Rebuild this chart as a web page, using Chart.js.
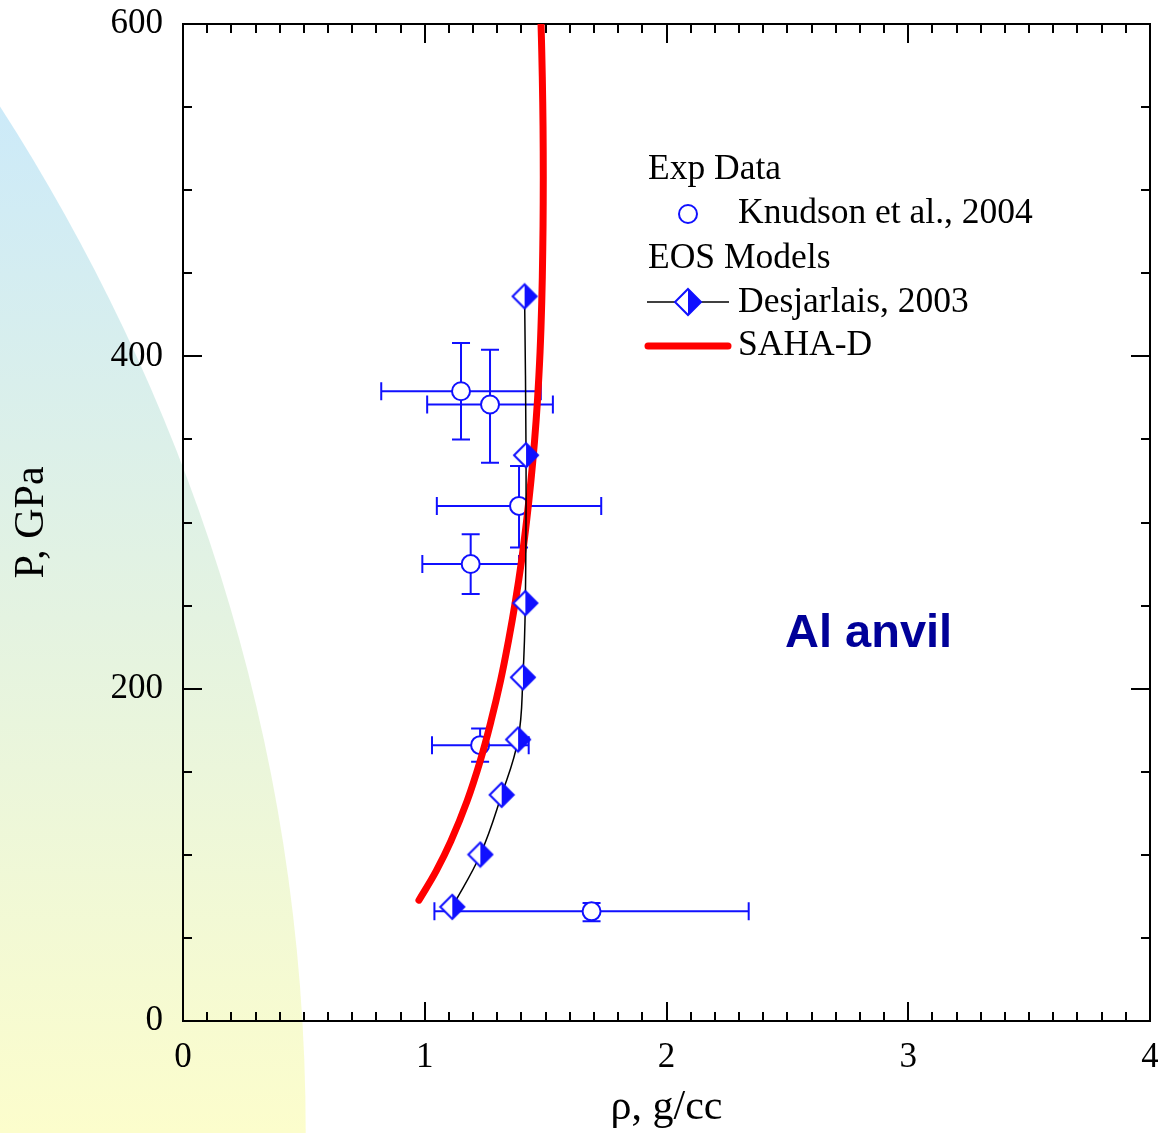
<!DOCTYPE html>
<html>
<head>
<meta charset="utf-8">
<script src="https://cdn.jsdelivr.net/npm/chart.js@4.4.1/dist/chart.umd.min.js"></script>
<style>
  html, body { margin: 0; padding: 0; background: #fff; }
</style>
</head>
<body>
<canvas id="myChart" width="1158" height="1133"></canvas>
<script>
// Exp data: Knudson et al., 2004 (density g/cc, pressure GPa, with error bars)
const knudsonRho = [1.150, 1.270, 1.390, 1.190, 1.229, 1.690];
const knudsonP = [379, 371, 310, 275, 166, 66];
const knudsonRhoLo = [0.82, 1.01, 1.05, 0.99, 1.03, 1.04];
const knudsonRhoHi = [1.48, 1.53, 1.73, 1.39, 1.43, 2.34];
const knudsonPLo = [350, 336, 285, 257, 156, 60];
const knudsonPHi = [408, 404, 334, 293, 176, 71];

// EOS model: Desjarlais, 2003
const desjRho = [1.114, 1.230, 1.318, 1.386, 1.406, 1.416, 1.419, 1.413];
const desjP = [68.7, 100.2, 136.1, 169.4, 206.8, 251.5, 340.5, 436.1];

// EOS model: SAHA-D
const sahaRho = [0.976, 1.047, 1.108, 1.175, 1.229, 1.274, 1.313, 1.346, 1.375, 1.400, 1.421, 1.439, 1.454, 1.466, 1.477, 1.484, 1.488, 1.490, 1.490, 1.488, 1.484, 1.481];
const sahaP = [72.7, 90.2, 108.2, 132.3, 156.3, 180.4, 204.4, 228.5, 252.5, 276.6, 300.6, 324.7, 348.7, 372.8, 402.8, 432.9, 462.9, 493.0, 523.1, 553.1, 583.2, 600];

// axis ranges / ticks
const xRange = [0, 4];
const yRange = [0, 600];
const xMajorStep = 1, xMinorStep = 0.1;
const yMajorStep = 200, yMinorStep = 50;

const BLUE = "#1010ff";
const SERIF = "'Liberation Serif', 'Times New Roman', serif";

function toPoints(xs, ys) {
  return xs.map((v, i) => ({ x: v, y: ys[i] }));
}

// fixed-size axis boxes, so the plot frame lands where the original has it
function fixBox(w, h) {
  return (s) => {
    if (w !== null) s.width = w;
    if (h !== null) s.height = h;
    s.paddingLeft = s.paddingRight = s.paddingTop = s.paddingBottom = 0;
  };
}

// half open / half filled diamond marker
function makeHalfDiamond(r) {
  const c = document.createElement("canvas");
  const s = 2 * r + 4;
  c.width = s;
  c.height = s;
  const g = c.getContext("2d");
  const m = s / 2;
  g.beginPath();
  g.moveTo(m, m - r); g.lineTo(m - r, m); g.lineTo(m, m + r); g.closePath();
  g.fillStyle = "#fff"; g.fill();
  g.beginPath();
  g.moveTo(m, m - r); g.lineTo(m + r, m); g.lineTo(m, m + r); g.closePath();
  g.fillStyle = BLUE; g.fill();
  g.beginPath();
  g.moveTo(m, m - r); g.lineTo(m + r, m); g.lineTo(m, m + r); g.lineTo(m - r, m); g.closePath();
  g.lineWidth = 2; g.strokeStyle = BLUE; g.stroke();
  return c;
}
const diamondImg = makeHalfDiamond(12);
const diamondLegendImg = makeHalfDiamond(13);

// light blue -> yellow backdrop at the left
const backdrop = {
  id: "backdrop",
  beforeDraw(chart) {
    const ctx = chart.ctx;
    const W = chart.width, H = chart.height;
    ctx.save();
    const grad = ctx.createLinearGradient(0, H * 0.09, 0, H);
    grad.addColorStop(0, "#cceaf9");
    grad.addColorStop(0.5, "#e4f3e1");
    grad.addColorStop(1, "#fcfdcc");
    ctx.fillStyle = grad;
    ctx.beginPath();
    ctx.moveTo(0, H * 0.094);
    ctx.bezierCurveTo(W * 0.155, H * 0.34, W * 0.264, H * 0.647, W * 0.264, H);
    ctx.lineTo(0, H);
    ctx.closePath();
    ctx.fill();
    ctx.restore();
  },
};

// error bars for the experimental points
const errorBars = {
  id: "errorBars",
  beforeDatasetsDraw(chart) {
    const { ctx, scales: { x, y } } = chart;
    const cap = 9;
    ctx.save();
    ctx.strokeStyle = BLUE;
    ctx.lineWidth = 2;
    knudsonRho.forEach((rho, i) => {
      const px = x.getPixelForValue(rho);
      const py = y.getPixelForValue(knudsonP[i]);
      const xl = x.getPixelForValue(knudsonRhoLo[i]);
      const xh = x.getPixelForValue(knudsonRhoHi[i]);
      const yl = y.getPixelForValue(knudsonPLo[i]);
      const yh = y.getPixelForValue(knudsonPHi[i]);
      ctx.beginPath();
      ctx.moveTo(xl, py); ctx.lineTo(xh, py);
      ctx.moveTo(xl, py - cap); ctx.lineTo(xl, py + cap);
      ctx.moveTo(xh, py - cap); ctx.lineTo(xh, py + cap);
      ctx.moveTo(px, yl); ctx.lineTo(px, yh);
      ctx.moveTo(px - cap, yl); ctx.lineTo(px + cap, yl);
      ctx.moveTo(px - cap, yh); ctx.lineTo(px + cap, yh);
      ctx.stroke();
    });
    ctx.restore();
  },
};

// inward tick marks on all four sides + x tick labels (from the x scale's ticks)
const tickMarks = {
  id: "tickMarks",
  afterDraw(chart) {
    const { ctx, chartArea: { top, bottom, left, right }, scales: { x, y } } = chart;
    ctx.save();
    ctx.strokeStyle = "#000";
    ctx.lineWidth = 2;
    ctx.beginPath();
    const nx = Math.round((xRange[1] - xRange[0]) / xMinorStep);
    const perX = Math.round(xMajorStep / xMinorStep);
    for (let i = 0; i <= nx; i++) {
      const px = Math.round(x.getPixelForValue(xRange[0] + i * xMinorStep));
      const len = i % perX === 0 ? 19 : 9;
      ctx.moveTo(px, bottom); ctx.lineTo(px, bottom - len);
      ctx.moveTo(px, top); ctx.lineTo(px, top + len);
    }
    const ny = Math.round((yRange[1] - yRange[0]) / yMinorStep);
    const perY = Math.round(yMajorStep / yMinorStep);
    for (let i = 0; i <= ny; i++) {
      const py = Math.round(y.getPixelForValue(yRange[0] + i * yMinorStep));
      const len = i % perY === 0 ? 19 : 9;
      ctx.moveTo(left, py); ctx.lineTo(left + len, py);
      ctx.moveTo(right, py); ctx.lineTo(right - len, py);
    }
    ctx.stroke();

    ctx.fillStyle = "#000";
    ctx.font = "35px " + SERIF;
    ctx.textAlign = "center";
    ctx.textBaseline = "alphabetic";
    x.ticks.forEach((t) => {
      ctx.fillText(String(t.value), x.getPixelForValue(t.value), bottom + 46);
    });
    ctx.restore();
  },
};

// legend with group headers + "Al anvil" note
const legendBox = {
  id: "legendBox",
  afterDraw(chart) {
    const ctx = chart.ctx;
    ctx.save();
    ctx.fillStyle = "#000";
    ctx.font = "35.5px " + SERIF;
    ctx.textBaseline = "alphabetic";
    ctx.fillText("Exp Data", 648, 179);
    ctx.fillText("Knudson et al., 2004", 738, 223);
    ctx.fillText("EOS Models", 648, 268);
    ctx.fillText("Desjarlais, 2003", 738, 312);
    ctx.fillText("SAHA-D", 738, 355);

    // circle symbol
    ctx.beginPath();
    ctx.arc(688, 214, 9, 0, Math.PI * 2);
    ctx.fillStyle = "#fff";
    ctx.fill();
    ctx.lineWidth = 2;
    ctx.strokeStyle = BLUE;
    ctx.stroke();

    // line + diamond symbol
    ctx.beginPath();
    ctx.moveTo(647, 302); ctx.lineTo(729, 302);
    ctx.lineWidth = 1.5;
    ctx.strokeStyle = "#000";
    ctx.stroke();
    ctx.drawImage(diamondLegendImg, 688 - diamondLegendImg.width / 2, 302 - diamondLegendImg.height / 2);

    // red line symbol
    ctx.beginPath();
    ctx.moveTo(648, 346); ctx.lineTo(728, 346);
    ctx.lineWidth = 7;
    ctx.lineCap = "round";
    ctx.strokeStyle = "#ff0000";
    ctx.stroke();

    ctx.fillStyle = "#000099";
    ctx.font = "bold 47px 'Liberation Sans', Arial, sans-serif";
    ctx.fillText("Al anvil", 785, 647);
    ctx.restore();
  },
};

const canvasCtx = document.getElementById("myChart").getContext("2d");

const config = {
  type: "scatter",
  data: {
    datasets: [
      {
        label: "Desjarlais, 2003",
        data: toPoints(desjRho, desjP),
        showLine: true,
        borderColor: "#000",
        borderWidth: 1.5,
        tension: 0.4,
        pointStyle: diamondImg,
        pointRadius: 12,
        pointHoverRadius: 12,
        order: 0,
      },
      {
        label: "SAHA-D",
        data: toPoints(sahaRho, sahaP),
        showLine: true,
        borderColor: "#ff0000",
        borderWidth: 7,
        borderCapStyle: "round",
        tension: 0.4,
        pointRadius: 0,
        pointHoverRadius: 0,
        order: 1,
      },
      {
        label: "Knudson et al., 2004",
        data: toPoints(knudsonRho, knudsonP),
        showLine: false,
        pointStyle: "circle",
        pointRadius: 9,
        pointHoverRadius: 9,
        pointBorderWidth: 2,
        pointBorderColor: BLUE,
        pointBackgroundColor: "#fff",
        order: 2,
      },
    ],
  },
  options: {
    responsive: false,
    animation: false,
    layout: { padding: 0, autoPadding: false },
    plugins: {
      legend: { display: false },
      tooltip: { enabled: false },
    },
    scales: {
      x: {
        type: "linear",
        position: "bottom",
        min: xRange[0],
        max: xRange[1],
        ticks: { stepSize: xMajorStep, display: false },
        grid: { display: false, drawTicks: false },
        border: { display: true, color: "#000", width: 2 },
        title: { display: true, text: "ρ, g/cc", font: { family: SERIF, size: 42 }, color: "#000", padding: { top: 0, bottom: 0 } },
        afterFit: fixBox(null, 112),
      },
      y: {
        type: "linear",
        position: "left",
        min: yRange[0],
        max: yRange[1],
        ticks: { stepSize: yMajorStep, font: { family: SERIF, size: 35 }, color: "#000", padding: 20 },
        grid: { display: false, drawTicks: false },
        border: { display: true, color: "#000", width: 2 },
        title: { display: true, text: "P, GPa", font: { family: SERIF, size: 42 }, color: "#000", padding: { top: 7, bottom: 0 } },
        afterFit: fixBox(183, null),
      },
      xTop: {
        type: "linear",
        position: "top",
        min: xRange[0],
        max: xRange[1],
        ticks: { display: false },
        grid: { display: false, drawTicks: false },
        border: { display: true, color: "#000", width: 2 },
        afterFit: fixBox(null, 24),
      },
      yRight: {
        type: "linear",
        position: "right",
        min: yRange[0],
        max: yRange[1],
        ticks: { display: false },
        grid: { display: false, drawTicks: false },
        border: { display: true, color: "#000", width: 2 },
        afterFit: fixBox(8, null),
      },
    },
  },
  plugins: [backdrop, errorBars, tickMarks, legendBox],
};

let myChart = new Chart(canvasCtx, config);
</script>
</body>
</html>
